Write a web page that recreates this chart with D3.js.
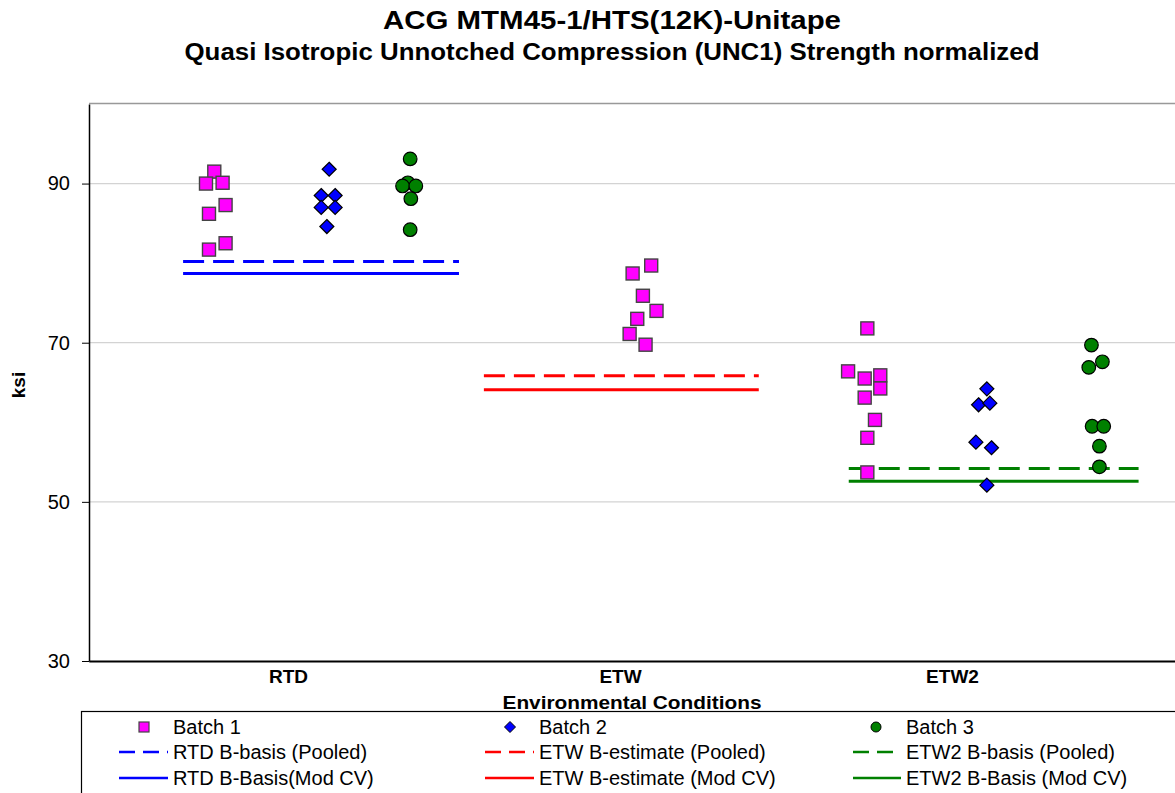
<!DOCTYPE html>
<html>
<head>
<meta charset="utf-8">
<script src="https://cdn.jsdelivr.net/npm/d3@7"></script>
<style>
  html, body { margin: 0; padding: 0; background: #fff; overflow: hidden; }
  svg { display: block; font-family: "Liberation Sans", Arial, sans-serif; }
</style>
</head>
<body>
<svg width="1175" height="793"></svg>
<script>
'use strict'

const conditions = ['RTD', 'ETW', 'ETW2'];
const yTicks = [30, 50, 70, 90];

// ksi values per batch, with their position along the x axis (1 = RTD, 2 = ETW, 3 = ETW2)
const batch1Ksi = [91.5, 90.0, 90.1, 87.3, 86.2, 82.5, 81.7,
  79.7, 78.7, 75.9, 74.0, 73.0, 71.1, 69.75,
  71.8, 66.4, 65.5, 65.9, 64.25, 63.1, 60.3, 58.05, 53.7];
const batch1Pos = [0.778, 0.753, 0.803, 0.812, 0.762, 0.812, 0.762,
  2.094, 2.038, 2.069, 2.110, 2.052, 2.029, 2.077,
  2.745, 2.687, 2.737, 2.784, 2.784, 2.737, 2.768, 2.745, 2.745];
const batch2Ksi = [91.8, 88.5, 88.5, 87.0, 87.0, 84.6,
  64.2, 62.2, 62.4, 57.5, 56.8, 52.1];
const batch2Pos = [1.124, 1.100, 1.142, 1.100, 1.142, 1.117,
  3.105, 3.080, 3.114, 3.072, 3.119, 3.105];
const batch3Ksi = [93.1, 90.1, 89.7, 89.7, 88.1, 84.2,
  69.7, 67.6, 66.9, 59.5, 59.5, 57.0, 54.4];
const batch3Pos = [1.368, 1.361, 1.345, 1.385, 1.370, 1.368,
  3.420, 3.453, 3.412, 3.422, 3.457, 3.444, 3.444];

// B-basis values per condition
const pooledBasis = [80.2, 65.85, 54.2];
const modCvBasis = [78.7, 64.1, 52.6];
const basisFrom = [0.684, 1.590, 2.689];
const basisTo = [1.515, 2.418, 3.562];
const basisColors = ['#0000ff', '#ff0000', '#008000'];
const pooledLabels = ['RTD B-basis (Pooled)', 'ETW B-estimate (Pooled)', 'ETW2 B-basis (Pooled)'];
const modCvLabels = ['RTD B-Basis(Mod CV)', 'ETW B-estimate (Mod CV)', 'ETW2 B-Basis (Mod CV)'];
const batchLabels = ['Batch 1', 'Batch 2', 'Batch 3'];

const svg = d3.select('svg');
const plotLeft = 89, plotTop = 104, plotBottom = 661;

const x = d3.scaleLinear().domain([0.4, 3.7]).range([88.8, 88.8 + 3.3 * 332]);
const y = d3.scaleLinear().domain([30, 100]).range([plotBottom, plotTop]);

// titles
svg.append('text')
  .attr('x', 612).attr('y', 29)
  .attr('text-anchor', 'middle')
  .style('font-weight', 'bold').style('font-size', '26px')
  .attr('textLength', 458).attr('lengthAdjust', 'spacingAndGlyphs')
  .text('ACG MTM45-1/HTS(12K)-Unitape');
svg.append('text')
  .attr('x', 612).attr('y', 60)
  .attr('text-anchor', 'middle')
  .style('font-weight', 'bold').style('font-size', '23px')
  .attr('textLength', 855).attr('lengthAdjust', 'spacingAndGlyphs')
  .text('Quasi Isotropic Unnotched Compression (UNC1) Strength normalized');

// plot frame and grid
svg.append('line')
  .attr('x1', plotLeft).attr('x2', 1175).attr('y1', plotTop - 0.5).attr('y2', plotTop - 0.5)
  .attr('stroke', '#999').attr('stroke-width', 1.5);
svg.append('g')
  .selectAll('line')
  .data(yTicks.filter(d => d > 30))
  .join('line')
  .attr('x1', plotLeft).attr('x2', 1175)
  .attr('y1', d => y(d)).attr('y2', d => y(d))
  .attr('stroke', '#d3d3d3').attr('stroke-width', 1.2);

const yAxis = svg.append('g')
  .attr('transform', `translate(${plotLeft},0)`)
  .call(d3.axisLeft(y).tickValues(yTicks).tickSize(7).tickSizeOuter(0).tickPadding(12));
yAxis.select('.domain').attr('stroke', '#000').attr('stroke-width', 1.5);
yAxis.selectAll('.tick line').attr('stroke', '#000');
yAxis.selectAll('.tick text')
  .style('font-size', '20px').attr('fill', '#000')
  .attr('font-family', '"Liberation Sans", Arial, sans-serif');

const xAxis = svg.append('g')
  .attr('transform', `translate(0,${plotBottom})`)
  .call(d3.axisBottom(x).tickValues([1, 2, 3]).tickFormat(d => conditions[d - 1])
    .tickSize(0).tickSizeOuter(0).tickPadding(9));
xAxis.select('.domain').attr('stroke', '#000').attr('stroke-width', 2.2);
xAxis.selectAll('.tick text')
  .style('font-size', '19px').style('font-weight', 'bold').attr('fill', '#000')
  .attr('font-family', '"Liberation Sans", Arial, sans-serif');

svg.append('text')
  .attr('x', 632).attr('y', 709)
  .attr('text-anchor', 'middle')
  .style('font-weight', 'bold').style('font-size', '18px')
  .attr('textLength', 259).attr('lengthAdjust', 'spacingAndGlyphs')
  .text('Environmental  Conditions');

svg.append('text')
  .attr('transform', 'translate(25,385) rotate(-90)')
  .attr('text-anchor', 'middle')
  .style('font-weight', 'bold').style('font-size', '19px')
  .text('ksi');

// basis lines
const basis = conditions.map((c, i) => ({ i, from: basisFrom[i], to: basisTo[i] }));
svg.append('g')
  .selectAll('line')
  .data(basis)
  .join('line')
  .attr('x1', d => x(d.from)).attr('x2', d => x(d.to))
  .attr('y1', d => y(pooledBasis[d.i])).attr('y2', d => y(pooledBasis[d.i]))
  .attr('stroke', d => basisColors[d.i]).attr('stroke-width', 3)
  .attr('stroke-dasharray', '21 9');
svg.append('g')
  .selectAll('line')
  .data(basis)
  .join('line')
  .attr('x1', d => x(d.from)).attr('x2', d => x(d.to))
  .attr('y1', d => y(modCvBasis[d.i])).attr('y2', d => y(modCvBasis[d.i]))
  .attr('stroke', d => basisColors[d.i]).attr('stroke-width', 3);

// markers
function diamond(s) {
  return `M0,${-s}L${s},0L0,${s}L${-s},0Z`;
}

svg.append('g')
  .selectAll('rect')
  .data(batch1Ksi.map((v, i) => ({ v, p: batch1Pos[i] })))
  .join('rect')
  .attr('x', d => x(d.p) - 6.5).attr('y', d => y(d.v) - 6.5)
  .attr('width', 13).attr('height', 13)
  .attr('fill', '#ff00ff').attr('stroke', '#444').attr('stroke-width', 1.4);

svg.append('g')
  .selectAll('path')
  .data(batch2Ksi.map((v, i) => ({ v, p: batch2Pos[i] })))
  .join('path')
  .attr('transform', d => `translate(${x(d.p)},${y(d.v)})`)
  .attr('d', diamond(7))
  .attr('fill', '#0000ff').attr('stroke', '#000').attr('stroke-width', 1.2);

svg.append('g')
  .selectAll('circle')
  .data(batch3Ksi.map((v, i) => ({ v, p: batch3Pos[i] })))
  .join('circle')
  .attr('cx', d => x(d.p)).attr('cy', d => y(d.v))
  .attr('r', 6.8)
  .attr('fill', '#008000').attr('stroke', '#000').attr('stroke-width', 1.2);

// legend
const legend = svg.append('g');
legend.append('rect')
  .attr('x', 81.5).attr('y', 711.5).attr('width', 1200).attr('height', 200)
  .attr('fill', 'none').attr('stroke', '#000').attr('stroke-width', 1.2);

const colText = [173, 539, 906];
const colMark = [144, 510, 876];
const colLine = [[119, 168], [485, 534], [853, 901]];
const rowY = [727, 752, 778];

batchLabels.forEach((label, i) => {
  const g = legend.append('g').attr('transform', `translate(${colMark[i]},${rowY[0]})`);
  if (i === 0) {
    g.append('rect').attr('x', -5).attr('y', -5).attr('width', 10).attr('height', 10)
      .attr('fill', '#ff00ff').attr('stroke', '#444').attr('stroke-width', 1.2);
  } else if (i === 1) {
    g.append('path').attr('d', diamond(5.5))
      .attr('fill', '#0000ff').attr('stroke', '#000').attr('stroke-width', 1);
  } else {
    g.append('circle').attr('r', 5)
      .attr('fill', '#008000').attr('stroke', '#000').attr('stroke-width', 1);
  }
  legend.append('text')
    .attr('x', colText[i]).attr('y', rowY[0] + 7)
    .style('font-size', '20px')
    .text(label);
});

[pooledLabels, modCvLabels].forEach((labels, r) => {
  labels.forEach((label, i) => {
    legend.append('line')
      .attr('x1', colLine[i][0]).attr('x2', colLine[i][1])
      .attr('y1', rowY[r + 1]).attr('y2', rowY[r + 1])
      .attr('stroke', basisColors[i]).attr('stroke-width', 2.5)
      .attr('stroke-dasharray', r === 0 ? '16 8' : null);
    legend.append('text')
      .attr('x', colText[i]).attr('y', rowY[r + 1] + 7)
      .style('font-size', '20px')
      .text(label);
  });
});
</script>
</body>
</html>
